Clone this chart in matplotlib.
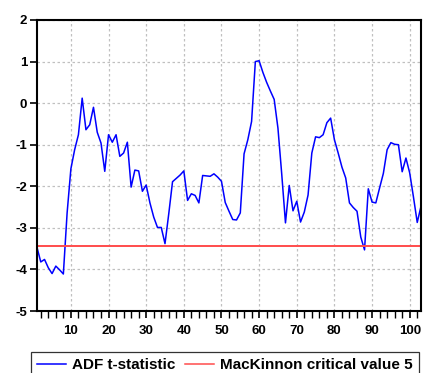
import numpy as np
import matplotlib
matplotlib.use('Agg')
import matplotlib.pyplot as plt
import matplotlib.ticker as ticker
from matplotlib.lines import Line2D

# ADF t-statistic for each observation (rolling window)
obs = np.arange(1, 104)
adf_stat = [-3.47, -3.82, -3.76, -3.96, -4.10, -3.92, -4.01, -4.11, -2.64, -1.58,
            -1.12, -0.76, 0.12, -0.64, -0.52, -0.10, -0.70, -0.96, -1.64, -0.76,
            -0.94, -0.76, -1.28, -1.20, -0.94, -2.02, -1.61, -1.63, -2.12, -1.97,
            -2.40, -2.74, -2.99, -2.99, -3.38, -2.66, -1.89, -1.81, -1.73, -1.63,
            -2.34, -2.18, -2.22, -2.40, -1.74, -1.75, -1.76, -1.70, -1.78, -1.88,
            -2.39, -2.60, -2.80, -2.81, -2.64, -1.22, -0.88, -0.44, 1.00, 1.02,
            0.74, 0.50, 0.29, 0.09, -0.60, -1.70, -2.88, -1.98, -2.59, -2.36,
            -2.86, -2.62, -2.21, -1.20, -0.81, -0.83, -0.76, -0.47, -0.36, -0.88,
            -1.20, -1.54, -1.80, -2.40, -2.51, -2.60, -3.22, -3.53, -2.06, -2.38,
            -2.40, -2.04, -1.69, -1.12, -0.95, -0.99, -1.00, -1.65, -1.32, -1.68,
            -2.26, -2.87, -2.48]
# MacKinnon 5% critical value
crit_5 = -3.44
labels = ['ADF t-statistic', 'MacKinnon critical value 5']

plt.rcParams['font.family'] = 'Liberation Sans'
plt.rcParams['font.weight'] = 'bold'
plt.rcParams['axes.unicode_minus'] = False

fig = plt.figure(figsize=(4.24, 3.73), dpi=100)
ax = fig.add_axes([37 / 424, 1 - 311 / 373, 384 / 424, 291 / 373])

# dashed grid like EViews
ax.grid(True, which='major', color='#c0c0c0', linestyle=(0, (2, 2)), linewidth=0.9)
ax.set_axisbelow(True)

ax.plot(obs, adf_stat, color='#0000ff', linewidth=1.1)
ax.axhline(crit_5, color='#ff4c4c', linewidth=1.4)

ax.set_xlim(1, 103)
ax.set_ylim(-5, 2)
ax.xaxis.set_major_locator(ticker.MultipleLocator(10))
ax.xaxis.set_minor_locator(ticker.MultipleLocator(2))
ax.yaxis.set_major_locator(ticker.MultipleLocator(1))
ax.tick_params(axis='both', which='both', direction='out', length=5, width=1.2,
               labelsize=9.5)
ax.tick_params(axis='y', pad=2)
ax.tick_params(axis='x', pad=5)
ax.tick_params(axis='x', which='minor', length=5, width=1.0)
for lab in ax.get_xticklabels() + ax.get_yticklabels():
    lab.set_fontweight('bold')

for side in ['top', 'right', 'left', 'bottom']:
    ax.spines[side].set_linewidth(1.5)
    ax.spines[side].set_color('black')

# legend below the plot, clipped at the bottom edge
handles = [Line2D([], [], color='#0000ff', linewidth=1.1),
           Line2D([], [], color='#ff4c4c', linewidth=1.1)]
leg = fig.legend(handles, labels, ncol=2, loc='upper left',
                 bbox_to_anchor=(30.7 / 424, 1 - 352.3 / 373),
                 prop={'size': 11, 'weight': 'bold'}, frameon=True,
                 fancybox=False, borderaxespad=0, handlelength=1.9,
                 handletextpad=0.4, columnspacing=0.65, borderpad=0.4)
leg.get_frame().set_edgecolor('black')
leg.get_frame().set_linewidth(0.9)

fig.savefig('out.png', dpi=100)
